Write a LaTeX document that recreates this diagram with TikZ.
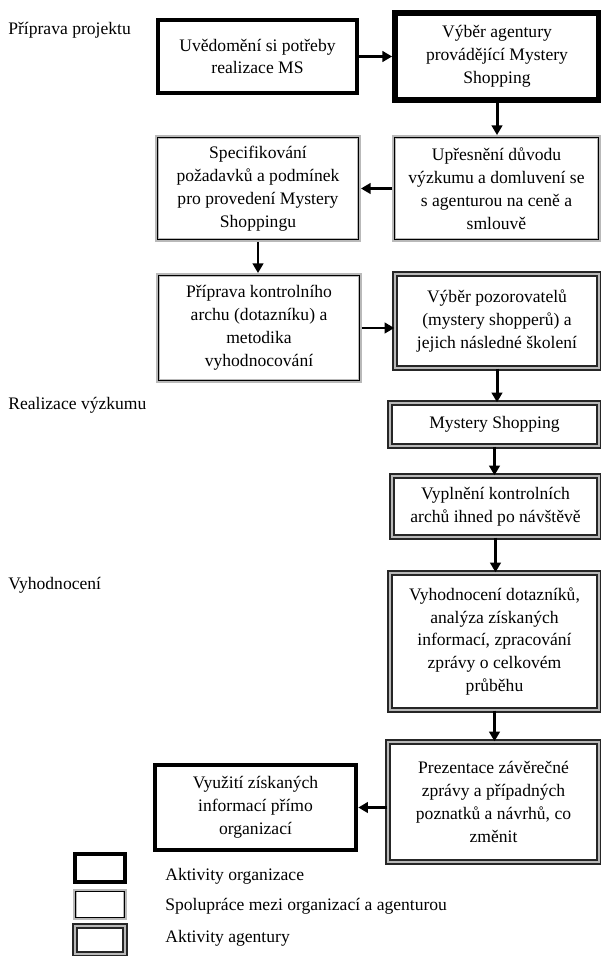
\documentclass[tikz,border=0pt]{standalone}
\usepackage{fontspec}
\setmainfont{Liberation Serif}
\usetikzlibrary{arrows.meta}
\tikzset{>={Triangle[length=5.5pt,width=6pt]}}

\begin{document}
\begin{tikzpicture}[x=0.02cm, y=-0.02cm,
    every node/.style={font=\fontsize{10}{13}\selectfont},
    sz/.style 2 args={minimum width=#1*0.02cm, minimum height=#2*0.02cm},
    box/.style={align=center, inner sep=0pt, fill=white},
    orgbox/.style={box, draw=black, line width=2.6pt},
    coopbox/.style={box, draw=gray!55, line width=2.2pt},
    coopline/.style={black, line width=0.6pt},
    agbox/.style={box, draw=black!85, line width=0.8pt, double=gray!55, double distance=1.4pt},
    arr/.style={->, line width=1.7pt},
    tag/.style={anchor=west, inner sep=0pt}]
                \fill[white] (0,0) rectangle (601,956);
                \useasboundingbox (0,0) rectangle (601,956);
                % faze projektu
                \node[tag] (tPriprava) at (8,30) {Příprava projektu};
                \node[tag] (tRealizace) at (8,405) {Realizace výzkumu};
                \node[tag] (tVyhodnoceni) at (8,585) {Vyhodnocení};
                % priprava
                \node[orgbox, sz={199}{73}] (uvedomeni) at (257.5,56.5)
                    {Uvědomění si potřeby\\realizace MS};
                \node[orgbox, line width=3.3pt, sz={204}{87}] (vyberAg) at (497,56.5)
                    {Výběr agentury\\provádějící Mystery\\Shopping};
                \node[coopbox, sz={205}{103}] (upresneni) at (496.5,188.5)
                    {Upřesnění důvodu\\výzkumu a domluvení se\\s agenturou na ceně a\\smlouvě};
                \node[coopbox, sz={202}{103}] (specifikace) at (258,188.5)
                    {Specifikování\\požadavků a podmínek\\pro provedení Mystery\\Shoppingu};
                \node[coopbox, sz={202}{106}] (pripravaArchu) at (259,328)
                    {Příprava kontrolního\\archu (dotazníku) a\\metodika\\vyhodnocování};
                \node[agbox, sz={204}{94}] (vyberPoz) at (497,321)
                    {Výběr pozorovatelů\\(mystery shopperů) a\\jejich následné školení};
                % realizace
                \node[agbox, sz={209}{43}] (ms) at (494.5,424.5) {Mystery Shopping};
                \node[agbox, sz={207}{61}] (vyplneni) at (495.5,506.5)
                    {Vyplnění kontrolních\\archů ihned po návštěvě};
                % vyhodnoceni
                \node[agbox, sz={209}{137}] (vyhodnoceni) at (494.5,641.5)
                    {Vyhodnocení dotazníků,\\analýza získaných\\informací, zpracování\\zprávy o celkovém\\průběhu};
                \node[agbox, sz={211}{120}] (prezentace) at (493.5,802)
                    {Prezentace závěrečné\\zprávy a případných\\poznatků a návrhů, co\\změnit};
                \node[orgbox, sz={201}{85}] (vyuziti) at (255.5,807.5)
                    {Využití získaných\\informací přímo\\organizací};
                % sipky
                \draw[arr] (uvedomeni) -- (vyberAg);
                \draw[arr] (vyberAg.south) -- (vyberAg.south |- upresneni.north);
                \draw[arr] (upresneni) -- (specifikace);
                \draw[arr] (specifikace.south) -- (specifikace.south |- pripravaArchu.north);
                \draw[arr] (pripravaArchu.east) -- (pripravaArchu.east -| vyberPoz.west);
                \draw[arr] (vyberPoz.south) -- (vyberPoz.south |- ms.north);
                \draw[arr] (ms.south) -- (ms.south |- vyplneni.north);
                \draw[arr] (vyplneni.south) -- (vyplneni.south |- vyhodnoceni.north);
                \draw[arr] (vyhodnoceni.south) -- (vyhodnoceni.south |- prezentace.north);
                \draw[arr] (prezentace.west |- vyuziti.east) -- (vyuziti.east);
                % legenda
                \node[orgbox, sz={50}{28}] (legOrg) at (100,868) {};
                \node[coopbox, sz={50}{28}] (legCoop) at (100,904.5) {};
                \node[agbox, sz={50}{28}] (legAg) at (100,940) {};
                \node[tag] (txtOrg) at (165,876) {Aktivity organizace};
                \node[tag] (txtCoop) at (165,906) {Spolupráce mezi organizací a agenturou};
                \node[tag] (txtAg) at (165,938) {Aktivity agentury};
                % vnitrni cara spoluprace
                \foreach \n in {upresneni, specifikace, pripravaArchu, legCoop}
                    \draw[coopline] ([shift={(1.5pt,-1.5pt)}]\n.north west) rectangle
                        ([shift={(-1.5pt,1.5pt)}]\n.south east);
\end{tikzpicture}
\end{document}
